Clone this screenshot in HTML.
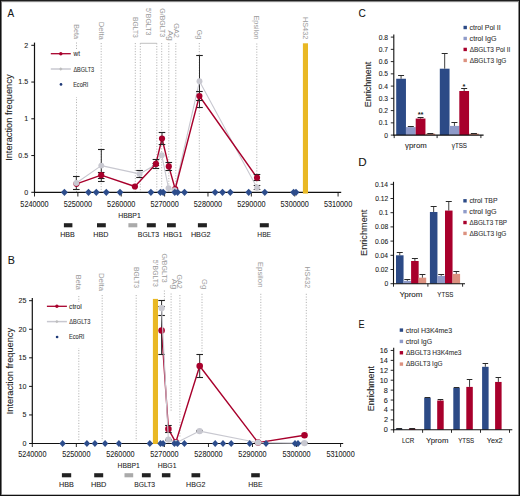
<!DOCTYPE html>
<html><head><meta charset="utf-8"><style>
html,body{margin:0;padding:0;background:#fff;}
svg{display:block;font-family:"Liberation Sans", sans-serif;}
text.d{stroke:#222;stroke-width:0.08px;}
</style></head><body>
<svg width="520" height="496" viewBox="0 0 520 496">
<rect width="520" height="496" fill="#fff"/>
<text x="7.58" y="16.8" font-size="11.6" fill="#111" textLength="6.64" lengthAdjust="spacingAndGlyphs" class="d">A</text>
<line x1="76.5" y1="42.5" x2="76.5" y2="192.3" stroke="#A0A0A0" stroke-width="0.8" stroke-dasharray="1.1 1.6"/>
<line x1="101.2" y1="43" x2="101.2" y2="192.3" stroke="#A0A0A0" stroke-width="0.8" stroke-dasharray="1.1 1.6"/>
<line x1="135.3" y1="43" x2="135.3" y2="192.3" stroke="#A0A0A0" stroke-width="0.8" stroke-dasharray="1.1 1.6"/>
<line x1="140.3" y1="43.3" x2="140.3" y2="192.3" stroke="#A0A0A0" stroke-width="0.8" stroke-dasharray="1.1 1.6"/>
<line x1="156.8" y1="43.3" x2="156.8" y2="192.3" stroke="#A0A0A0" stroke-width="0.8" stroke-dasharray="1.1 1.6"/>
<line x1="161.7" y1="43" x2="161.7" y2="192.3" stroke="#A0A0A0" stroke-width="0.8" stroke-dasharray="1.1 1.6"/>
<line x1="168.8" y1="43" x2="168.8" y2="192.3" stroke="#A0A0A0" stroke-width="0.8" stroke-dasharray="1.1 1.6"/>
<line x1="175.8" y1="43" x2="175.8" y2="192.3" stroke="#A0A0A0" stroke-width="0.8" stroke-dasharray="1.1 1.6"/>
<line x1="199.3" y1="43" x2="199.3" y2="192.3" stroke="#A0A0A0" stroke-width="0.8" stroke-dasharray="1.1 1.6"/>
<line x1="256.8" y1="43.5" x2="256.8" y2="192.3" stroke="#A0A0A0" stroke-width="0.8" stroke-dasharray="1.1 1.6"/>
<line x1="140.3" y1="43.3" x2="156.8" y2="43.3" stroke="#b0b0b0" stroke-width="0.8"/>
<text transform="translate(73.9,0) rotate(90)" x="24.21" y="0" font-size="7.9" fill="#9a9a9a" textLength="14.69" lengthAdjust="spacingAndGlyphs">Beta</text>
<text transform="translate(98.9,0) rotate(90)" x="21.76" y="0" font-size="7.9" fill="#9a9a9a" textLength="18.14" lengthAdjust="spacingAndGlyphs">Delta</text>
<text transform="translate(132.9,0) rotate(90)" x="16.96" y="0" font-size="7.9" fill="#9a9a9a" textLength="20.83" lengthAdjust="spacingAndGlyphs">BGLT3</text>
<text transform="translate(146.2,0) rotate(90)" x="7.92" y="0" font-size="7.9" fill="#9a9a9a" textLength="27.48" lengthAdjust="spacingAndGlyphs">5' BGLT3</text>
<text transform="translate(159.5,0) rotate(90)" x="8.36" y="0" font-size="7.9" fill="#9a9a9a" textLength="28.84" lengthAdjust="spacingAndGlyphs">G/BGLT3</text>
<text transform="translate(168.2,0) rotate(90)" x="30.18" y="0" font-size="7.9" fill="#9a9a9a" textLength="10.68" lengthAdjust="spacingAndGlyphs">Ag</text>
<text transform="translate(174.0,0) rotate(90)" x="23.23" y="0" font-size="7.9" fill="#9a9a9a" textLength="14.64" lengthAdjust="spacingAndGlyphs">GA2</text>
<text transform="translate(197.4,0) rotate(90)" x="29.85" y="0" font-size="7.9" fill="#9a9a9a" textLength="9.3" lengthAdjust="spacingAndGlyphs">Gg</text>
<text transform="translate(254.3,0) rotate(90)" x="15.5" y="0" font-size="7.9" fill="#9a9a9a" textLength="23.87" lengthAdjust="spacingAndGlyphs">Epsilon</text>
<text transform="translate(303.1,0) rotate(90)" x="16.9" y="0" font-size="7.9" fill="#9a9a9a" textLength="22.47" lengthAdjust="spacingAndGlyphs">HS432</text>
<rect x="48" y="50" width="50" height="47" fill="#fff"/>
<line x1="34.5" y1="42.6" x2="34.5" y2="192.8" stroke="#111" stroke-width="1.2"/>
<line x1="33.9" y1="192.3" x2="341.2" y2="192.3" stroke="#111" stroke-width="1.2"/>
<rect x="302.9" y="43.3" width="5.1" height="150.3" fill="#E9B824"/>
<line x1="31.3" y1="192.3" x2="34.5" y2="192.3" stroke="#111" stroke-width="1"/>
<text x="24.22" y="194.7" font-size="7.9" fill="#222" textLength="3.95" lengthAdjust="spacingAndGlyphs" class="d">0</text>
<line x1="31.3" y1="155.55" x2="34.5" y2="155.55" stroke="#111" stroke-width="1"/>
<text x="18.31" y="157.95" font-size="7.9" fill="#222" textLength="9.88" lengthAdjust="spacingAndGlyphs" class="d">0.5</text>
<line x1="31.3" y1="118.80000000000001" x2="34.5" y2="118.80000000000001" stroke="#111" stroke-width="1"/>
<text x="24.29" y="121.2" font-size="7.9" fill="#222" textLength="3.95" lengthAdjust="spacingAndGlyphs" class="d">1</text>
<line x1="31.3" y1="82.05000000000001" x2="34.5" y2="82.05000000000001" stroke="#111" stroke-width="1"/>
<text x="18.31" y="84.45" font-size="7.9" fill="#222" textLength="9.88" lengthAdjust="spacingAndGlyphs" class="d">1.5</text>
<line x1="31.3" y1="45.30000000000001" x2="34.5" y2="45.30000000000001" stroke="#111" stroke-width="1"/>
<text x="24.3" y="47.7" font-size="7.9" fill="#222" textLength="3.95" lengthAdjust="spacingAndGlyphs" class="d">2</text>
<line x1="34.5" y1="192.3" x2="34.5" y2="196.5" stroke="#111" stroke-width="0.9"/>
<text x="20.36" y="206.7" font-size="8.3" fill="#222" textLength="28.27" lengthAdjust="spacingAndGlyphs" class="d">5240000</text>
<line x1="77.87" y1="192.3" x2="77.87" y2="196.5" stroke="#111" stroke-width="0.9"/>
<text x="63.73" y="206.7" font-size="8.3" fill="#222" textLength="28.27" lengthAdjust="spacingAndGlyphs" class="d">5250000</text>
<line x1="121.24" y1="192.3" x2="121.24" y2="196.5" stroke="#111" stroke-width="0.9"/>
<text x="107.1" y="206.7" font-size="8.3" fill="#222" textLength="28.27" lengthAdjust="spacingAndGlyphs" class="d">5260000</text>
<line x1="164.60999999999999" y1="192.3" x2="164.60999999999999" y2="196.5" stroke="#111" stroke-width="0.9"/>
<text x="150.47" y="206.7" font-size="8.3" fill="#222" textLength="28.27" lengthAdjust="spacingAndGlyphs" class="d">5270000</text>
<line x1="207.98" y1="192.3" x2="207.98" y2="196.5" stroke="#111" stroke-width="0.9"/>
<text x="193.84" y="206.7" font-size="8.3" fill="#222" textLength="28.27" lengthAdjust="spacingAndGlyphs" class="d">5280000</text>
<line x1="251.35" y1="192.3" x2="251.35" y2="196.5" stroke="#111" stroke-width="0.9"/>
<text x="237.21" y="206.7" font-size="8.3" fill="#222" textLength="28.27" lengthAdjust="spacingAndGlyphs" class="d">5290000</text>
<line x1="294.71999999999997" y1="192.3" x2="294.71999999999997" y2="196.5" stroke="#111" stroke-width="0.9"/>
<text x="280.58" y="206.7" font-size="8.3" fill="#222" textLength="28.27" lengthAdjust="spacingAndGlyphs" class="d">5300000</text>
<line x1="338.09" y1="192.3" x2="338.09" y2="196.5" stroke="#111" stroke-width="0.9"/>
<text x="323.95" y="206.7" font-size="8.3" fill="#222" textLength="28.27" lengthAdjust="spacingAndGlyphs" class="d">5310000</text>
<text transform="translate(12.1,0) rotate(-90)" x="-160.85" y="0" font-size="9.6" fill="#222" textLength="86.37" lengthAdjust="spacingAndGlyphs" class="d">Interaction frequency</text>
<line x1="76.3" y1="176.5" x2="76.3" y2="189.5" stroke="#222" stroke-width="0.95"/>
<line x1="73.0" y1="176.5" x2="79.6" y2="176.5" stroke="#222" stroke-width="1.1"/>
<line x1="73.0" y1="189.5" x2="79.6" y2="189.5" stroke="#222" stroke-width="1.1"/>
<line x1="101.3" y1="149.5" x2="101.3" y2="181.5" stroke="#222" stroke-width="0.95"/>
<line x1="98.0" y1="149.5" x2="104.6" y2="149.5" stroke="#222" stroke-width="1.1"/>
<line x1="98.0" y1="181.5" x2="104.6" y2="181.5" stroke="#222" stroke-width="1.1"/>
<line x1="139.6" y1="170.5" x2="139.6" y2="177.5" stroke="#222" stroke-width="0.95"/>
<line x1="136.3" y1="170.5" x2="142.9" y2="170.5" stroke="#222" stroke-width="1.1"/>
<line x1="136.3" y1="177.5" x2="142.9" y2="177.5" stroke="#222" stroke-width="1.1"/>
<line x1="155.8" y1="165.5" x2="155.8" y2="163.5" stroke="#222" stroke-width="0.95"/>
<line x1="152.5" y1="165.5" x2="159.1" y2="165.5" stroke="#222" stroke-width="1.1"/>
<line x1="152.5" y1="163.5" x2="159.1" y2="163.5" stroke="#222" stroke-width="1.1"/>
<line x1="199.5" y1="55.5" x2="199.5" y2="107.5" stroke="#222" stroke-width="0.95"/>
<line x1="196.2" y1="55.5" x2="202.8" y2="55.5" stroke="#222" stroke-width="1.1"/>
<line x1="196.2" y1="107.5" x2="202.8" y2="107.5" stroke="#222" stroke-width="1.1"/>
<line x1="257" y1="185.5" x2="257" y2="189.5" stroke="#222" stroke-width="0.95"/>
<line x1="253.7" y1="185.5" x2="260.3" y2="185.5" stroke="#222" stroke-width="1.1"/>
<line x1="253.7" y1="189.5" x2="260.3" y2="189.5" stroke="#222" stroke-width="1.1"/>
<polyline points="76.3,183 101.3,165.6 139.6,173.9 155.8,164.5 161.8,155.3 168.5,188.1 174.6,190.2 199.5,81.3 257,187.8" fill="none" stroke="#C8C8D0" stroke-width="1.1" stroke-linejoin="round"/>
<polyline points="76.5,183.8 101.2,175.2 134.9,186.5 155.9,163.9 162,138.5 168.8,166.4 175.2,189 199.4,96 257,177.7" fill="none" stroke="#A8002C" stroke-width="1.4" stroke-linejoin="round"/>
<line x1="101.2" y1="172.5" x2="101.2" y2="178.5" stroke="#222" stroke-width="0.95"/>
<line x1="97.9" y1="172.5" x2="104.5" y2="172.5" stroke="#222" stroke-width="1.1"/>
<line x1="97.9" y1="178.5" x2="104.5" y2="178.5" stroke="#222" stroke-width="1.1"/>
<line x1="155.9" y1="159.5" x2="155.9" y2="168.5" stroke="#222" stroke-width="0.95"/>
<line x1="152.6" y1="159.5" x2="159.2" y2="159.5" stroke="#222" stroke-width="1.1"/>
<line x1="152.6" y1="168.5" x2="159.2" y2="168.5" stroke="#222" stroke-width="1.1"/>
<line x1="162" y1="132.5" x2="162" y2="144.5" stroke="#222" stroke-width="0.95"/>
<line x1="158.7" y1="132.5" x2="165.3" y2="132.5" stroke="#222" stroke-width="1.1"/>
<line x1="158.7" y1="144.5" x2="165.3" y2="144.5" stroke="#222" stroke-width="1.1"/>
<line x1="168.8" y1="162.5" x2="168.8" y2="170.5" stroke="#222" stroke-width="0.95"/>
<line x1="165.5" y1="162.5" x2="172.1" y2="162.5" stroke="#222" stroke-width="1.1"/>
<line x1="165.5" y1="170.5" x2="172.1" y2="170.5" stroke="#222" stroke-width="1.1"/>
<line x1="199.4" y1="91.5" x2="199.4" y2="100.5" stroke="#222" stroke-width="0.95"/>
<line x1="196.1" y1="91.5" x2="202.7" y2="91.5" stroke="#222" stroke-width="1.1"/>
<line x1="196.1" y1="100.5" x2="202.7" y2="100.5" stroke="#222" stroke-width="1.1"/>
<line x1="257" y1="174.5" x2="257" y2="180.5" stroke="#222" stroke-width="0.95"/>
<line x1="253.7" y1="174.5" x2="260.3" y2="174.5" stroke="#222" stroke-width="1.1"/>
<line x1="253.7" y1="180.5" x2="260.3" y2="180.5" stroke="#222" stroke-width="1.1"/>
<circle cx="76.5" cy="183.8" r="3.1" fill="#A8002C"/>
<circle cx="101.2" cy="175.2" r="3.1" fill="#A8002C"/>
<circle cx="134.9" cy="186.5" r="3.1" fill="#A8002C"/>
<circle cx="155.9" cy="163.9" r="3.1" fill="#A8002C"/>
<circle cx="162" cy="138.5" r="3.1" fill="#A8002C"/>
<circle cx="168.8" cy="166.4" r="3.1" fill="#A8002C"/>
<circle cx="175.2" cy="189" r="3.1" fill="#A8002C"/>
<circle cx="199.4" cy="96" r="3.1" fill="#A8002C"/>
<circle cx="257" cy="177.7" r="3.1" fill="#A8002C"/>
<circle cx="76.3" cy="183" r="2.95" fill="#C8C8D0"/>
<circle cx="101.3" cy="165.6" r="2.95" fill="#C8C8D0"/>
<circle cx="139.6" cy="173.9" r="2.95" fill="#C8C8D0"/>
<circle cx="161.8" cy="155.3" r="2.95" fill="#C8C8D0"/>
<circle cx="168.5" cy="188.1" r="2.95" fill="#C8C8D0"/>
<circle cx="174.6" cy="190.2" r="2.95" fill="#C8C8D0"/>
<circle cx="199.5" cy="81.3" r="2.95" fill="#C8C8D0"/>
<circle cx="257" cy="187.8" r="2.95" fill="#C8C8D0"/>
<path d="M60.95 192.3L64.4 188.65L67.85 192.3L64.4 195.95Z" fill="#2D4D8C"/>
<path d="M85.05 192.3L88.5 188.65L91.95 192.3L88.5 195.95Z" fill="#2D4D8C"/>
<path d="M92.85 192.3L96.3 188.65L99.75 192.3L96.3 195.95Z" fill="#2D4D8C"/>
<path d="M102.85 192.3L106.3 188.65L109.75 192.3L106.3 195.95Z" fill="#2D4D8C"/>
<path d="M116.55 192.3L120 188.65L123.45 192.3L120 195.95Z" fill="#2D4D8C"/>
<path d="M147.45 192.3L150.9 188.65L154.35 192.3L150.9 195.95Z" fill="#2D4D8C"/>
<path d="M156.95 192.3L160.4 188.65L163.85 192.3L160.4 195.95Z" fill="#2D4D8C"/>
<path d="M159.75 192.3L163.2 188.65L166.65 192.3L163.2 195.95Z" fill="#2D4D8C"/>
<path d="M171.35 192.3L174.8 188.65L178.25 192.3L174.8 195.95Z" fill="#2D4D8C"/>
<path d="M174.15 192.3L177.6 188.65L181.05 192.3L177.6 195.95Z" fill="#2D4D8C"/>
<path d="M181.05 192.3L184.5 188.65L187.95 192.3L184.5 195.95Z" fill="#2D4D8C"/>
<path d="M211.65 192.3L215.1 188.65L218.55 192.3L215.1 195.95Z" fill="#2D4D8C"/>
<path d="M219.05 192.3L222.5 188.65L225.95 192.3L222.5 195.95Z" fill="#2D4D8C"/>
<path d="M226.85 192.3L230.3 188.65L233.75 192.3L230.3 195.95Z" fill="#2D4D8C"/>
<path d="M245.25 192.3L248.7 188.65L252.15 192.3L248.7 195.95Z" fill="#2D4D8C"/>
<path d="M261.35 192.3L264.8 188.65L268.25 192.3L264.8 195.95Z" fill="#2D4D8C"/>
<path d="M290.15 192.3L293.6 188.65L297.05 192.3L293.6 195.95Z" fill="#2D4D8C"/>
<path d="M292.55 192.3L296 188.65L299.45 192.3L296 195.95Z" fill="#2D4D8C"/>
<line x1="50.8" y1="53.7" x2="70.8" y2="53.7" stroke="#A8002C" stroke-width="1.3"/>
<circle cx="60.8" cy="53.7" r="1.7" fill="#A8002C"/>
<line x1="50.8" y1="69.0" x2="70.8" y2="69.0" stroke="#C8C8D0" stroke-width="1.5"/>
<path d="M59.1 69.0L60.8 67.3L62.5 69.0L60.8 70.7Z" fill="#bdbdbd"/>
<circle cx="61.0" cy="84.4" r="1.35" fill="#1f3a78"/>
<text x="73.61" y="55.9" font-size="6.5" fill="#333" textLength="6.34" lengthAdjust="spacingAndGlyphs" class="d">wt</text>
<text x="73.44" y="71.5" font-size="6.5" fill="#333" textLength="20.7" lengthAdjust="spacingAndGlyphs" class="d">ΔBGLT3</text>
<text x="73.14" y="86.5" font-size="6.5" fill="#333" textLength="15.28" lengthAdjust="spacingAndGlyphs" class="d">EcoRI</text>
<rect x="63.9" y="223.2" width="8.5" height="4.1" fill="#222"/>
<text x="60.22" y="237.3" font-size="7.8" fill="#222" textLength="14.66" lengthAdjust="spacingAndGlyphs" class="d">HBB</text>
<rect x="97" y="223.2" width="8.8" height="4.1" fill="#222"/>
<text x="93.21" y="237.3" font-size="7.8" fill="#222" textLength="15.13" lengthAdjust="spacingAndGlyphs" class="d">HBD</text>
<rect x="128.4" y="223.2" width="8.9" height="4.1" fill="#aaa"/>
<text x="118.24" y="218.1" font-size="7.8" fill="#222" textLength="22.5" lengthAdjust="spacingAndGlyphs" class="d">HBBP1</text>
<rect x="146.8" y="223.2" width="9.0" height="4.1" fill="#222"/>
<text x="137.85" y="237.3" font-size="7.8" fill="#222" textLength="21.24" lengthAdjust="spacingAndGlyphs" class="d">BGLT3</text>
<rect x="167" y="223.2" width="8.8" height="4.1" fill="#222"/>
<text x="163.32" y="237.3" font-size="7.8" fill="#222" textLength="19.22" lengthAdjust="spacingAndGlyphs" class="d">HBG1</text>
<rect x="197.9" y="223.2" width="9.0" height="4.1" fill="#222"/>
<text x="190.91" y="237.3" font-size="7.8" fill="#222" textLength="19.66" lengthAdjust="spacingAndGlyphs" class="d">HBG2</text>
<rect x="259.8" y="223.2" width="9.0" height="4.1" fill="#222"/>
<text x="257.35" y="237.3" font-size="7.8" fill="#222" textLength="13.73" lengthAdjust="spacingAndGlyphs" class="d">HBE</text>
<text x="7.82" y="263.9" font-size="11.6" fill="#111" textLength="7.14" lengthAdjust="spacingAndGlyphs" class="d">B</text>
<line x1="78.8" y1="296" x2="78.8" y2="441" stroke="#A0A0A0" stroke-width="0.8" stroke-dasharray="1.1 1.6"/>
<line x1="102.2" y1="295" x2="102.2" y2="441" stroke="#A0A0A0" stroke-width="0.8" stroke-dasharray="1.1 1.6"/>
<line x1="136.2" y1="295" x2="136.2" y2="441" stroke="#A0A0A0" stroke-width="0.8" stroke-dasharray="1.1 1.6"/>
<line x1="164.4" y1="290.5" x2="164.4" y2="301" stroke="#A0A0A0" stroke-width="0.8" stroke-dasharray="1.1 1.6"/>
<line x1="171.1" y1="293.5" x2="171.1" y2="412" stroke="#A0A0A0" stroke-width="0.8" stroke-dasharray="1.1 1.6"/>
<line x1="179.9" y1="295" x2="179.9" y2="438" stroke="#A0A0A0" stroke-width="0.8" stroke-dasharray="1.1 1.6"/>
<line x1="202" y1="293.8" x2="202" y2="352" stroke="#A0A0A0" stroke-width="0.8" stroke-dasharray="1.1 1.6"/>
<line x1="260.8" y1="293.8" x2="260.8" y2="438" stroke="#A0A0A0" stroke-width="0.8" stroke-dasharray="1.1 1.6"/>
<line x1="306.3" y1="293.8" x2="306.3" y2="432" stroke="#A0A0A0" stroke-width="0.8" stroke-dasharray="1.1 1.6"/>
<text transform="translate(76.3,0) rotate(90)" x="274.8" y="0" font-size="7.9" fill="#9a9a9a" textLength="15.1" lengthAdjust="spacingAndGlyphs">Beta</text>
<text transform="translate(98.9,0) rotate(90)" x="272.96" y="0" font-size="7.9" fill="#9a9a9a" textLength="18.14" lengthAdjust="spacingAndGlyphs">Delta</text>
<text transform="translate(133.5,0) rotate(90)" x="266.96" y="0" font-size="7.9" fill="#9a9a9a" textLength="21.04" lengthAdjust="spacingAndGlyphs">BGLT3</text>
<text transform="translate(153.0,0) rotate(90)" x="259.83" y="0" font-size="7.9" fill="#9a9a9a" textLength="27.07" lengthAdjust="spacingAndGlyphs">5' BGLT3</text>
<text transform="translate(162.4,0) rotate(90)" x="253.45" y="0" font-size="7.9" fill="#9a9a9a" textLength="29.15" lengthAdjust="spacingAndGlyphs">G/BGLT3</text>
<text transform="translate(171.5,0) rotate(90)" x="278.88" y="0" font-size="7.9" fill="#9a9a9a" textLength="10.47" lengthAdjust="spacingAndGlyphs">Ag</text>
<text transform="translate(177.2,0) rotate(90)" x="274.54" y="0" font-size="7.9" fill="#9a9a9a" textLength="14.21" lengthAdjust="spacingAndGlyphs">GA2</text>
<text transform="translate(201.6,0) rotate(90)" x="279.12" y="0" font-size="7.9" fill="#9a9a9a" textLength="10.18" lengthAdjust="spacingAndGlyphs">Gg</text>
<text transform="translate(258.0,0) rotate(90)" x="261.86" y="0" font-size="7.9" fill="#9a9a9a" textLength="25.65" lengthAdjust="spacingAndGlyphs">Epsilon</text>
<text transform="translate(304.5,0) rotate(90)" x="266.41" y="0" font-size="7.9" fill="#9a9a9a" textLength="21.95" lengthAdjust="spacingAndGlyphs">HS432</text>
<rect x="45" y="302" width="50" height="46" fill="#fff"/>
<line x1="32.3" y1="298.1" x2="32.3" y2="444.0" stroke="#111" stroke-width="1.2"/>
<line x1="31.699999999999996" y1="443.5" x2="343.2" y2="443.5" stroke="#111" stroke-width="1.2"/>
<rect x="152.9" y="298.9" width="5.1" height="145.1" fill="#E9B824"/>
<line x1="29.099999999999998" y1="443.5" x2="32.3" y2="443.5" stroke="#111" stroke-width="1"/>
<text x="22.52" y="445.9" font-size="7.9" fill="#222" textLength="3.95" lengthAdjust="spacingAndGlyphs" class="d">0</text>
<line x1="29.099999999999998" y1="414.94" x2="32.3" y2="414.94" stroke="#111" stroke-width="1"/>
<text x="22.54" y="417.34" font-size="7.9" fill="#222" textLength="3.95" lengthAdjust="spacingAndGlyphs" class="d">5</text>
<line x1="29.099999999999998" y1="386.38" x2="32.3" y2="386.38" stroke="#111" stroke-width="1"/>
<text x="18.57" y="388.78" font-size="7.9" fill="#222" textLength="7.91" lengthAdjust="spacingAndGlyphs" class="d">10</text>
<line x1="29.099999999999998" y1="357.82" x2="32.3" y2="357.82" stroke="#111" stroke-width="1"/>
<text x="18.59" y="360.22" font-size="7.9" fill="#222" textLength="7.91" lengthAdjust="spacingAndGlyphs" class="d">15</text>
<line x1="29.099999999999998" y1="329.26" x2="32.3" y2="329.26" stroke="#111" stroke-width="1"/>
<text x="18.57" y="331.66" font-size="7.9" fill="#222" textLength="7.91" lengthAdjust="spacingAndGlyphs" class="d">20</text>
<line x1="29.099999999999998" y1="300.70000000000005" x2="32.3" y2="300.70000000000005" stroke="#111" stroke-width="1"/>
<text x="18.59" y="303.1" font-size="7.9" fill="#222" textLength="7.91" lengthAdjust="spacingAndGlyphs" class="d">25</text>
<line x1="32.3" y1="443.5" x2="32.3" y2="447.0" stroke="#111" stroke-width="0.9"/>
<text x="18.16" y="456.5" font-size="8.3" fill="#222" textLength="28.27" lengthAdjust="spacingAndGlyphs" class="d">5240000</text>
<line x1="76.34" y1="443.5" x2="76.34" y2="447.0" stroke="#111" stroke-width="0.9"/>
<text x="62.2" y="456.5" font-size="8.3" fill="#222" textLength="28.27" lengthAdjust="spacingAndGlyphs" class="d">5250000</text>
<line x1="120.38" y1="443.5" x2="120.38" y2="447.0" stroke="#111" stroke-width="0.9"/>
<text x="106.24" y="456.5" font-size="8.3" fill="#222" textLength="28.27" lengthAdjust="spacingAndGlyphs" class="d">5260000</text>
<line x1="164.42000000000002" y1="443.5" x2="164.42000000000002" y2="447.0" stroke="#111" stroke-width="0.9"/>
<text x="150.28" y="456.5" font-size="8.3" fill="#222" textLength="28.27" lengthAdjust="spacingAndGlyphs" class="d">5270000</text>
<line x1="208.45999999999998" y1="443.5" x2="208.45999999999998" y2="447.0" stroke="#111" stroke-width="0.9"/>
<text x="194.32" y="456.5" font-size="8.3" fill="#222" textLength="28.27" lengthAdjust="spacingAndGlyphs" class="d">5280000</text>
<line x1="252.5" y1="443.5" x2="252.5" y2="447.0" stroke="#111" stroke-width="0.9"/>
<text x="238.36" y="456.5" font-size="8.3" fill="#222" textLength="28.27" lengthAdjust="spacingAndGlyphs" class="d">5290000</text>
<line x1="296.54" y1="443.5" x2="296.54" y2="447.0" stroke="#111" stroke-width="0.9"/>
<text x="282.4" y="456.5" font-size="8.3" fill="#222" textLength="28.27" lengthAdjust="spacingAndGlyphs" class="d">5300000</text>
<line x1="340.58" y1="443.5" x2="340.58" y2="447.0" stroke="#111" stroke-width="0.9"/>
<text x="326.44" y="456.5" font-size="8.3" fill="#222" textLength="28.27" lengthAdjust="spacingAndGlyphs" class="d">5310000</text>
<text transform="translate(12.6,0) rotate(-90)" x="-414.25" y="0" font-size="9.6" fill="#222" textLength="86.37" lengthAdjust="spacingAndGlyphs" class="d">Interaction frequency</text>
<line x1="161.6" y1="300.5" x2="161.6" y2="315.5" stroke="#222" stroke-width="0.95"/>
<line x1="158.3" y1="300.5" x2="164.9" y2="300.5" stroke="#222" stroke-width="1.1"/>
<line x1="158.3" y1="315.5" x2="164.9" y2="315.5" stroke="#222" stroke-width="1.1"/>
<line x1="168.4" y1="439.5" x2="168.4" y2="440.5" stroke="#222" stroke-width="0.95"/>
<line x1="165.1" y1="439.5" x2="171.7" y2="439.5" stroke="#222" stroke-width="1.1"/>
<line x1="165.1" y1="440.5" x2="171.7" y2="440.5" stroke="#222" stroke-width="1.1"/>
<line x1="199.6" y1="430.5" x2="199.6" y2="431.5" stroke="#222" stroke-width="0.95"/>
<line x1="196.3" y1="430.5" x2="202.9" y2="430.5" stroke="#222" stroke-width="1.1"/>
<line x1="196.3" y1="431.5" x2="202.9" y2="431.5" stroke="#222" stroke-width="1.1"/>
<line x1="258.1" y1="442.5" x2="258.1" y2="442.5" stroke="#222" stroke-width="0.95"/>
<line x1="254.8" y1="442.5" x2="261.4" y2="442.5" stroke="#222" stroke-width="1.1"/>
<line x1="254.8" y1="442.5" x2="261.4" y2="442.5" stroke="#222" stroke-width="1.1"/>
<line x1="304.5" y1="442.5" x2="304.5" y2="443.5" stroke="#222" stroke-width="0.95"/>
<line x1="301.2" y1="442.5" x2="307.8" y2="442.5" stroke="#222" stroke-width="1.1"/>
<line x1="301.2" y1="443.5" x2="307.8" y2="443.5" stroke="#222" stroke-width="1.1"/>
<polyline points="161.6,330.5 168.4,429.1 175.8,442.3 199.7,366 258.1,442.6 304.5,435.3" fill="none" stroke="#A8002C" stroke-width="1.4" stroke-linejoin="round"/>
<line x1="161.6" y1="306.5" x2="161.6" y2="354.5" stroke="#222" stroke-width="0.95"/>
<line x1="158.3" y1="306.5" x2="164.9" y2="306.5" stroke="#222" stroke-width="1.1"/>
<line x1="158.3" y1="354.5" x2="164.9" y2="354.5" stroke="#222" stroke-width="1.1"/>
<line x1="168.4" y1="425.5" x2="168.4" y2="432.5" stroke="#222" stroke-width="0.95"/>
<line x1="165.1" y1="425.5" x2="171.7" y2="425.5" stroke="#222" stroke-width="1.1"/>
<line x1="165.1" y1="432.5" x2="171.7" y2="432.5" stroke="#222" stroke-width="1.1"/>
<line x1="199.7" y1="354.5" x2="199.7" y2="377.5" stroke="#222" stroke-width="0.95"/>
<line x1="196.4" y1="354.5" x2="203.0" y2="354.5" stroke="#222" stroke-width="1.1"/>
<line x1="196.4" y1="377.5" x2="203.0" y2="377.5" stroke="#222" stroke-width="1.1"/>
<circle cx="161.6" cy="330.5" r="3.3" fill="#A8002C"/>
<circle cx="168.4" cy="429.1" r="3.3" fill="#A8002C"/>
<circle cx="175.8" cy="442.3" r="3.3" fill="#A8002C"/>
<circle cx="199.7" cy="366" r="3.3" fill="#A8002C"/>
<circle cx="258.1" cy="442.6" r="3.3" fill="#A8002C"/>
<circle cx="304.5" cy="435.3" r="3.3" fill="#A8002C"/>
<polyline points="161.6,308.1 168.4,439.6 175.8,443 199.6,431.1 258.1,442.6 304.5,443.1" fill="none" stroke="#C8C8D0" stroke-width="1.1" stroke-linejoin="round"/>
<circle cx="161.6" cy="308.1" r="3.2" fill="#C8C8D0"/>
<circle cx="168.4" cy="439.6" r="3.2" fill="#C8C8D0"/>
<circle cx="175.8" cy="443" r="3.2" fill="#C8C8D0"/>
<circle cx="199.6" cy="431.1" r="3.2" fill="#C8C8D0"/>
<circle cx="258.1" cy="442.6" r="3.2" fill="#C8C8D0"/>
<circle cx="304.5" cy="443.1" r="3.2" fill="#C8C8D0"/>
<path d="M59.4 443.5L62.6 440.05L65.8 443.5L62.6 446.95Z" fill="#2D4D8C"/>
<path d="M83.7 443.5L86.9 440.05L90.1 443.5L86.9 446.95Z" fill="#2D4D8C"/>
<path d="M91.7 443.5L94.9 440.05L98.1 443.5L94.9 446.95Z" fill="#2D4D8C"/>
<path d="M101.9 443.5L105.1 440.05L108.3 443.5L105.1 446.95Z" fill="#2D4D8C"/>
<path d="M115.7 443.5L118.9 440.05L122.1 443.5L118.9 446.95Z" fill="#2D4D8C"/>
<path d="M146.6 443.5L149.8 440.05L153.0 443.5L149.8 446.95Z" fill="#2D4D8C"/>
<path d="M157.3 443.5L160.5 440.05L163.7 443.5L160.5 446.95Z" fill="#2D4D8C"/>
<path d="M159.9 443.5L163.1 440.05L166.3 443.5L163.1 446.95Z" fill="#2D4D8C"/>
<path d="M171.2 443.5L174.4 440.05L177.6 443.5L174.4 446.95Z" fill="#2D4D8C"/>
<path d="M174.3 443.5L177.5 440.05L180.7 443.5L177.5 446.95Z" fill="#2D4D8C"/>
<path d="M181.2 443.5L184.4 440.05L187.6 443.5L184.4 446.95Z" fill="#2D4D8C"/>
<path d="M212.0 443.5L215.2 440.05L218.4 443.5L215.2 446.95Z" fill="#2D4D8C"/>
<path d="M219.8 443.5L223 440.05L226.2 443.5L223 446.95Z" fill="#2D4D8C"/>
<path d="M228.0 443.5L231.2 440.05L234.4 443.5L231.2 446.95Z" fill="#2D4D8C"/>
<path d="M246.5 443.5L249.7 440.05L252.9 443.5L249.7 446.95Z" fill="#2D4D8C"/>
<path d="M262.8 443.5L266 440.05L269.2 443.5L266 446.95Z" fill="#2D4D8C"/>
<path d="M291.8 443.5L295 440.05L298.2 443.5L295 446.95Z" fill="#2D4D8C"/>
<path d="M294.8 443.5L298 440.05L301.2 443.5L298 446.95Z" fill="#2D4D8C"/>
<line x1="46.9" y1="306.3" x2="66.9" y2="306.3" stroke="#A8002C" stroke-width="1.3"/>
<circle cx="56.9" cy="306.3" r="1.7" fill="#A8002C"/>
<line x1="46.9" y1="321.6" x2="66.9" y2="321.6" stroke="#C8C8D0" stroke-width="1.5"/>
<path d="M55.2 321.6L56.9 319.9L58.6 321.6L56.9 323.3Z" fill="#bdbdbd"/>
<circle cx="57.099999999999994" cy="337.0" r="1.35" fill="#1f3a78"/>
<text x="69.12" y="308.6" font-size="6.5" fill="#333" textLength="12.63" lengthAdjust="spacingAndGlyphs" class="d">ctrol</text>
<text x="69.24" y="323.6" font-size="6.5" fill="#333" textLength="21.21" lengthAdjust="spacingAndGlyphs" class="d">ΔBGLT3</text>
<text x="68.94" y="339.1" font-size="6.5" fill="#333" textLength="15.38" lengthAdjust="spacingAndGlyphs" class="d">EcoRI</text>
<rect x="61.9" y="473.2" width="9.3" height="4.1" fill="#222"/>
<text x="59.01" y="487.3" font-size="7.8" fill="#222" textLength="14.87" lengthAdjust="spacingAndGlyphs" class="d">HBB</text>
<rect x="94.2" y="473.2" width="9.0" height="4.1" fill="#222"/>
<text x="90.9" y="487.3" font-size="7.8" fill="#222" textLength="15.56" lengthAdjust="spacingAndGlyphs" class="d">HBD</text>
<rect x="124.5" y="473.2" width="8.7" height="4.1" fill="#aaa"/>
<text x="117.55" y="468.1" font-size="7.8" fill="#222" textLength="22.08" lengthAdjust="spacingAndGlyphs" class="d">HBBP1</text>
<rect x="141.9" y="473.2" width="8.8" height="4.1" fill="#222"/>
<text x="134.16" y="487.3" font-size="7.8" fill="#222" textLength="20.83" lengthAdjust="spacingAndGlyphs" class="d">BGLT3</text>
<rect x="161.9" y="473.2" width="8.5" height="4.1" fill="#222"/>
<text x="157.84" y="468.1" font-size="7.8" fill="#222" textLength="18.7" lengthAdjust="spacingAndGlyphs" class="d">HBG1</text>
<rect x="191.5" y="473.2" width="8.7" height="4.1" fill="#222"/>
<text x="186.12" y="487.3" font-size="7.8" fill="#222" textLength="19.23" lengthAdjust="spacingAndGlyphs" class="d">HBG2</text>
<rect x="251.2" y="473.2" width="8.6" height="4.1" fill="#222"/>
<text x="248.23" y="487.3" font-size="7.8" fill="#222" textLength="14.37" lengthAdjust="spacingAndGlyphs" class="d">HBE</text>
<text x="358.39" y="16.9" font-size="11.6" fill="#111" textLength="7.3" lengthAdjust="spacingAndGlyphs" class="d">C</text>
<rect x="396.2" y="78.75" width="9.75" height="56.35" fill="#2C4A86"/>
<line x1="401.07" y1="75.5" x2="401.07" y2="78.75" stroke="#2a2a2a" stroke-width="0.9"/>
<line x1="398.07" y1="75.5" x2="404.07" y2="75.5" stroke="#2a2a2a" stroke-width="1.0"/>
<rect x="405.95" y="127.14" width="9.75" height="7.96" fill="#8F9BC9"/>
<line x1="410.82" y1="126.5" x2="410.82" y2="127.14" stroke="#2a2a2a" stroke-width="0.9"/>
<line x1="407.82" y1="126.5" x2="413.82" y2="126.5" stroke="#2a2a2a" stroke-width="1.0"/>
<rect x="415.7" y="118.56" width="9.75" height="16.54" fill="#A8002C"/>
<line x1="420.57" y1="117.5" x2="420.57" y2="118.56" stroke="#2a2a2a" stroke-width="0.9"/>
<line x1="417.57" y1="117.5" x2="423.57" y2="117.5" stroke="#2a2a2a" stroke-width="1.0"/>
<rect x="425.45" y="133.63" width="9.75" height="1.47" fill="#DC917F"/>
<line x1="430.32" y1="133.5" x2="430.32" y2="133.63" stroke="#2a2a2a" stroke-width="0.9"/>
<line x1="427.32" y1="133.5" x2="433.32" y2="133.5" stroke="#2a2a2a" stroke-width="1.0"/>
<rect x="439.8" y="68.7" width="9.75" height="66.4" fill="#2C4A86"/>
<line x1="444.68" y1="53.5" x2="444.68" y2="68.7" stroke="#2a2a2a" stroke-width="0.9"/>
<line x1="441.68" y1="53.5" x2="447.68" y2="53.5" stroke="#2a2a2a" stroke-width="1.0"/>
<rect x="449.55" y="125.91" width="9.75" height="9.19" fill="#8F9BC9"/>
<line x1="454.43" y1="122.5" x2="454.43" y2="125.91" stroke="#2a2a2a" stroke-width="0.9"/>
<line x1="451.43" y1="122.5" x2="457.43" y2="122.5" stroke="#2a2a2a" stroke-width="1.0"/>
<rect x="459.3" y="91.0" width="9.75" height="44.1" fill="#A8002C"/>
<line x1="464.18" y1="88.5" x2="464.18" y2="91.0" stroke="#2a2a2a" stroke-width="0.9"/>
<line x1="461.18" y1="88.5" x2="467.18" y2="88.5" stroke="#2a2a2a" stroke-width="1.0"/>
<rect x="469.05" y="133.63" width="9.75" height="1.47" fill="#DC917F"/>
<line x1="473.93" y1="133.5" x2="473.93" y2="133.63" stroke="#2a2a2a" stroke-width="0.9"/>
<line x1="470.93" y1="133.5" x2="476.93" y2="133.5" stroke="#2a2a2a" stroke-width="1.0"/>
<line x1="393.8" y1="34.5" x2="393.8" y2="135.6" stroke="#111" stroke-width="1.1"/>
<line x1="393.3" y1="135.1" x2="483.6" y2="135.1" stroke="#111" stroke-width="1.1"/>
<line x1="390.8" y1="135.1" x2="393.8" y2="135.1" stroke="#111" stroke-width="0.9"/>
<text x="384.23" y="137.6" font-size="7.3" fill="#222" textLength="3.74" lengthAdjust="spacingAndGlyphs" class="d">0</text>
<line x1="390.8" y1="122.85" x2="393.8" y2="122.85" stroke="#111" stroke-width="0.9"/>
<text x="378.69" y="125.35" font-size="7.3" fill="#222" textLength="9.34" lengthAdjust="spacingAndGlyphs" class="d">0.1</text>
<line x1="390.8" y1="110.6" x2="393.8" y2="110.6" stroke="#111" stroke-width="0.9"/>
<text x="378.7" y="113.1" font-size="7.3" fill="#222" textLength="9.34" lengthAdjust="spacingAndGlyphs" class="d">0.2</text>
<line x1="390.8" y1="98.35" x2="393.8" y2="98.35" stroke="#111" stroke-width="0.9"/>
<text x="378.66" y="100.85" font-size="7.3" fill="#222" textLength="9.34" lengthAdjust="spacingAndGlyphs" class="d">0.3</text>
<line x1="390.8" y1="86.1" x2="393.8" y2="86.1" stroke="#111" stroke-width="0.9"/>
<text x="378.56" y="88.6" font-size="7.3" fill="#222" textLength="9.34" lengthAdjust="spacingAndGlyphs" class="d">0.4</text>
<line x1="390.8" y1="73.85" x2="393.8" y2="73.85" stroke="#111" stroke-width="0.9"/>
<text x="378.65" y="76.35" font-size="7.3" fill="#222" textLength="9.34" lengthAdjust="spacingAndGlyphs" class="d">0.5</text>
<line x1="390.8" y1="61.6" x2="393.8" y2="61.6" stroke="#111" stroke-width="0.9"/>
<text x="378.66" y="64.1" font-size="7.3" fill="#222" textLength="9.34" lengthAdjust="spacingAndGlyphs" class="d">0.6</text>
<line x1="390.8" y1="49.35" x2="393.8" y2="49.35" stroke="#111" stroke-width="0.9"/>
<text x="378.7" y="51.85" font-size="7.3" fill="#222" textLength="9.34" lengthAdjust="spacingAndGlyphs" class="d">0.7</text>
<line x1="390.8" y1="37.1" x2="393.8" y2="37.1" stroke="#111" stroke-width="0.9"/>
<text x="378.66" y="39.6" font-size="7.3" fill="#222" textLength="9.34" lengthAdjust="spacingAndGlyphs" class="d">0.8</text>
<line x1="394.2" y1="135.1" x2="394.2" y2="138.1" stroke="#111" stroke-width="0.9"/>
<line x1="437.1" y1="135.1" x2="437.1" y2="138.1" stroke="#111" stroke-width="0.9"/>
<line x1="480.9" y1="135.1" x2="480.9" y2="138.1" stroke="#111" stroke-width="0.9"/>
<text x="405.07" y="148.4" font-size="7.4" fill="#222" textLength="21.64" lengthAdjust="spacingAndGlyphs" class="d">γprom</text>
<text x="451.78" y="148.3" font-size="7.4" fill="#222" textLength="15.21" lengthAdjust="spacingAndGlyphs" class="d">γTSS</text>
<text transform="translate(371.4,0) rotate(-90)" x="-107.14" y="0" font-size="9.9" fill="#222" textLength="45.4" lengthAdjust="spacingAndGlyphs" class="d">Enrichment</text>
<rect x="463.5" y="25.8" width="3.4" height="3.4" fill="#2C4A86"/>
<text x="469.6" y="29.9" font-size="6.6" fill="#333" textLength="31.14" lengthAdjust="spacingAndGlyphs" class="d">ctrol Pol II</text>
<rect x="463.5" y="36.77" width="3.4" height="3.4" fill="#8F9BC9"/>
<text x="469.6" y="40.87" font-size="6.6" fill="#333" textLength="26.94" lengthAdjust="spacingAndGlyphs" class="d">ctrol IgG</text>
<rect x="463.5" y="47.74" width="3.4" height="3.4" fill="#A8002C"/>
<text x="469.71" y="51.84" font-size="6.6" fill="#333" textLength="40.68" lengthAdjust="spacingAndGlyphs" class="d">ΔBGLT3 Pol II</text>
<rect x="463.5" y="58.71" width="3.4" height="3.4" fill="#DC917F"/>
<text x="469.71" y="62.81" font-size="6.6" fill="#333" textLength="36.67" lengthAdjust="spacingAndGlyphs" class="d">ΔBGLT3 IgG</text>
<text x="420.6" y="117.0" font-size="7.5" font-weight="bold" fill="#222" text-anchor="middle">**</text>
<text x="463.9" y="88.9" font-size="7.5" font-weight="bold" fill="#222" text-anchor="middle">*</text>
<text x="358.24" y="165.6" font-size="11.6" fill="#111" textLength="8.41" lengthAdjust="spacingAndGlyphs" class="d">D</text>
<rect x="396.0" y="255.3" width="7.55" height="28.4" fill="#2C4A86"/>
<line x1="399.77" y1="252.5" x2="399.77" y2="255.3" stroke="#2a2a2a" stroke-width="0.9"/>
<line x1="396.77" y1="252.5" x2="402.77" y2="252.5" stroke="#2a2a2a" stroke-width="1.0"/>
<rect x="403.55" y="280.86" width="7.55" height="2.84" fill="#8F9BC9"/>
<line x1="407.32" y1="279.5" x2="407.32" y2="280.86" stroke="#2a2a2a" stroke-width="0.9"/>
<line x1="404.32" y1="279.5" x2="410.32" y2="279.5" stroke="#2a2a2a" stroke-width="1.0"/>
<rect x="411.1" y="260.98" width="7.55" height="22.72" fill="#A8002C"/>
<line x1="414.88" y1="258.5" x2="414.88" y2="260.98" stroke="#2a2a2a" stroke-width="0.9"/>
<line x1="411.88" y1="258.5" x2="417.88" y2="258.5" stroke="#2a2a2a" stroke-width="1.0"/>
<rect x="418.65" y="277.66" width="7.55" height="6.04" fill="#DC917F"/>
<line x1="422.42" y1="274.5" x2="422.42" y2="277.66" stroke="#2a2a2a" stroke-width="0.9"/>
<line x1="419.42" y1="274.5" x2="425.42" y2="274.5" stroke="#2a2a2a" stroke-width="1.0"/>
<rect x="429.9" y="211.99" width="7.55" height="71.71" fill="#2C4A86"/>
<line x1="433.67" y1="206.5" x2="433.67" y2="211.99" stroke="#2a2a2a" stroke-width="0.9"/>
<line x1="430.67" y1="206.5" x2="436.67" y2="206.5" stroke="#2a2a2a" stroke-width="1.0"/>
<rect x="437.45" y="275.89" width="7.55" height="7.81" fill="#8F9BC9"/>
<line x1="441.22" y1="274.5" x2="441.22" y2="275.89" stroke="#2a2a2a" stroke-width="0.9"/>
<line x1="438.22" y1="274.5" x2="444.22" y2="274.5" stroke="#2a2a2a" stroke-width="1.0"/>
<rect x="445.0" y="210.57" width="7.55" height="73.13" fill="#A8002C"/>
<line x1="448.77" y1="201.5" x2="448.77" y2="210.57" stroke="#2a2a2a" stroke-width="0.9"/>
<line x1="445.77" y1="201.5" x2="451.77" y2="201.5" stroke="#2a2a2a" stroke-width="1.0"/>
<rect x="452.55" y="273.9" width="7.55" height="9.8" fill="#DC917F"/>
<line x1="456.32" y1="271.5" x2="456.32" y2="273.9" stroke="#2a2a2a" stroke-width="0.9"/>
<line x1="453.32" y1="271.5" x2="459.32" y2="271.5" stroke="#2a2a2a" stroke-width="1.0"/>
<line x1="393.5" y1="181.8" x2="393.5" y2="284.2" stroke="#111" stroke-width="1.1"/>
<line x1="393.0" y1="283.7" x2="465" y2="283.7" stroke="#111" stroke-width="1.1"/>
<line x1="390.5" y1="283.7" x2="393.5" y2="283.7" stroke="#111" stroke-width="0.9"/>
<text x="384.43" y="286.2" font-size="7.3" fill="#222" textLength="3.74" lengthAdjust="spacingAndGlyphs" class="d">0</text>
<line x1="390.5" y1="269.5" x2="393.5" y2="269.5" stroke="#111" stroke-width="0.9"/>
<text x="375.17" y="272.0" font-size="7.3" fill="#222" textLength="13.07" lengthAdjust="spacingAndGlyphs" class="d">0.02</text>
<line x1="390.5" y1="255.3" x2="393.5" y2="255.3" stroke="#111" stroke-width="0.9"/>
<text x="375.03" y="257.8" font-size="7.3" fill="#222" textLength="13.07" lengthAdjust="spacingAndGlyphs" class="d">0.04</text>
<line x1="390.5" y1="241.1" x2="393.5" y2="241.1" stroke="#111" stroke-width="0.9"/>
<text x="375.12" y="243.6" font-size="7.3" fill="#222" textLength="13.07" lengthAdjust="spacingAndGlyphs" class="d">0.06</text>
<line x1="390.5" y1="226.9" x2="393.5" y2="226.9" stroke="#111" stroke-width="0.9"/>
<text x="375.12" y="229.4" font-size="7.3" fill="#222" textLength="13.07" lengthAdjust="spacingAndGlyphs" class="d">0.08</text>
<line x1="390.5" y1="212.7" x2="393.5" y2="212.7" stroke="#111" stroke-width="0.9"/>
<text x="378.89" y="215.2" font-size="7.3" fill="#222" textLength="9.34" lengthAdjust="spacingAndGlyphs" class="d">0.1</text>
<line x1="390.5" y1="198.5" x2="393.5" y2="198.5" stroke="#111" stroke-width="0.9"/>
<text x="375.17" y="201.0" font-size="7.3" fill="#222" textLength="13.07" lengthAdjust="spacingAndGlyphs" class="d">0.12</text>
<line x1="390.5" y1="184.3" x2="393.5" y2="184.3" stroke="#111" stroke-width="0.9"/>
<text x="375.03" y="186.8" font-size="7.3" fill="#222" textLength="13.07" lengthAdjust="spacingAndGlyphs" class="d">0.14</text>
<line x1="393.5" y1="283.7" x2="393.5" y2="286.7" stroke="#111" stroke-width="0.9"/>
<line x1="427.9" y1="283.7" x2="427.9" y2="286.7" stroke="#111" stroke-width="0.9"/>
<line x1="462.6" y1="283.7" x2="462.6" y2="286.7" stroke="#111" stroke-width="0.9"/>
<text x="399.43" y="296.8" font-size="7.4" fill="#222" textLength="23.09" lengthAdjust="spacingAndGlyphs" class="d">Yprom</text>
<text x="437.37" y="297.0" font-size="7.4" fill="#222" textLength="16.02" lengthAdjust="spacingAndGlyphs" class="d">YTSS</text>
<text transform="translate(366.9,0) rotate(-90)" x="-255.95" y="0" font-size="9.9" fill="#222" textLength="46.32" lengthAdjust="spacingAndGlyphs" class="d">Enrichment</text>
<rect x="463.3" y="199.1" width="3.4" height="3.4" fill="#2C4A86"/>
<text x="469.41" y="203.2" font-size="6.6" fill="#333" textLength="28.05" lengthAdjust="spacingAndGlyphs" class="d">ctrol TBP</text>
<rect x="463.3" y="209.97" width="3.4" height="3.4" fill="#8F9BC9"/>
<text x="469.39" y="214.07" font-size="6.6" fill="#333" textLength="27.14" lengthAdjust="spacingAndGlyphs" class="d">ctrol IgG</text>
<rect x="463.3" y="220.84" width="3.4" height="3.4" fill="#A8002C"/>
<text x="469.52" y="224.94" font-size="6.6" fill="#333" textLength="37.51" lengthAdjust="spacingAndGlyphs" class="d">ΔBGLT3 TBP</text>
<rect x="463.3" y="231.71" width="3.4" height="3.4" fill="#DC917F"/>
<text x="469.51" y="235.81" font-size="6.6" fill="#333" textLength="36.87" lengthAdjust="spacingAndGlyphs" class="d">ΔBGLT3 IgG</text>
<text x="358.46" y="327.9" font-size="11.6" fill="#111" textLength="6.03" lengthAdjust="spacingAndGlyphs" class="d">E</text>
<rect x="395.9" y="428.56" width="6.5" height="1.24" fill="#2C4A86"/>
<line x1="399.15" y1="428.5" x2="399.15" y2="428.56" stroke="#2a2a2a" stroke-width="0.9"/>
<line x1="396.35" y1="428.5" x2="401.95" y2="428.5" stroke="#2a2a2a" stroke-width="1.0"/>
<rect x="402.4" y="429.7" width="6.5" height="0.1" fill="#8F9BC9"/>
<rect x="408.9" y="428.56" width="6.5" height="1.24" fill="#A8002C"/>
<line x1="412.15" y1="428.5" x2="412.15" y2="428.56" stroke="#2a2a2a" stroke-width="0.9"/>
<line x1="409.35" y1="428.5" x2="414.95" y2="428.5" stroke="#2a2a2a" stroke-width="1.0"/>
<rect x="415.4" y="429.7" width="6.5" height="0.1" fill="#DC917F"/>
<rect x="424.2" y="397.81" width="6.5" height="31.99" fill="#2C4A86"/>
<line x1="427.45" y1="397.5" x2="427.45" y2="397.81" stroke="#2a2a2a" stroke-width="0.9"/>
<line x1="424.65" y1="397.5" x2="430.25" y2="397.5" stroke="#2a2a2a" stroke-width="1.0"/>
<rect x="430.7" y="429.7" width="6.5" height="0.1" fill="#8F9BC9"/>
<rect x="437.2" y="400.54" width="6.5" height="29.26" fill="#A8002C"/>
<line x1="440.45" y1="399.5" x2="440.45" y2="400.54" stroke="#2a2a2a" stroke-width="0.9"/>
<line x1="437.65" y1="399.5" x2="443.25" y2="399.5" stroke="#2a2a2a" stroke-width="1.0"/>
<rect x="443.7" y="429.7" width="6.5" height="0.1" fill="#DC917F"/>
<rect x="453.3" y="387.89" width="6.5" height="41.91" fill="#2C4A86"/>
<line x1="456.55" y1="387.5" x2="456.55" y2="387.89" stroke="#2a2a2a" stroke-width="0.9"/>
<line x1="453.75" y1="387.5" x2="459.35" y2="387.5" stroke="#2a2a2a" stroke-width="1.0"/>
<rect x="459.8" y="429.7" width="6.5" height="0.1" fill="#8F9BC9"/>
<rect x="466.3" y="386.9" width="6.5" height="42.9" fill="#A8002C"/>
<line x1="469.55" y1="379.5" x2="469.55" y2="386.9" stroke="#2a2a2a" stroke-width="0.9"/>
<line x1="466.75" y1="379.5" x2="472.35" y2="379.5" stroke="#2a2a2a" stroke-width="1.0"/>
<rect x="472.8" y="429.7" width="6.5" height="0.1" fill="#DC917F"/>
<rect x="482.1" y="366.81" width="6.5" height="62.99" fill="#2C4A86"/>
<line x1="485.35" y1="363.5" x2="485.35" y2="366.81" stroke="#2a2a2a" stroke-width="0.9"/>
<line x1="482.55" y1="363.5" x2="488.15" y2="363.5" stroke="#2a2a2a" stroke-width="1.0"/>
<rect x="488.6" y="429.7" width="6.5" height="0.1" fill="#8F9BC9"/>
<rect x="495.1" y="381.94" width="6.5" height="47.86" fill="#A8002C"/>
<line x1="498.35" y1="377.5" x2="498.35" y2="381.94" stroke="#2a2a2a" stroke-width="0.9"/>
<line x1="495.55" y1="377.5" x2="501.15" y2="377.5" stroke="#2a2a2a" stroke-width="1.0"/>
<rect x="501.6" y="429.7" width="6.5" height="0.1" fill="#DC917F"/>
<line x1="393.7" y1="347.7" x2="393.7" y2="430.3" stroke="#111" stroke-width="1.1"/>
<line x1="393.2" y1="429.8" x2="512.3" y2="429.8" stroke="#111" stroke-width="1.1"/>
<line x1="390.7" y1="429.8" x2="393.7" y2="429.8" stroke="#111" stroke-width="0.9"/>
<text x="383.83" y="432.3" font-size="7.3" fill="#222" textLength="4.06" lengthAdjust="spacingAndGlyphs" class="d">0</text>
<line x1="390.7" y1="419.88" x2="393.7" y2="419.88" stroke="#111" stroke-width="0.9"/>
<text x="383.91" y="422.38" font-size="7.3" fill="#222" textLength="4.06" lengthAdjust="spacingAndGlyphs" class="d">2</text>
<line x1="390.7" y1="409.96" x2="393.7" y2="409.96" stroke="#111" stroke-width="0.9"/>
<text x="383.75" y="412.46" font-size="7.3" fill="#222" textLength="4.06" lengthAdjust="spacingAndGlyphs" class="d">4</text>
<line x1="390.7" y1="400.04" x2="393.7" y2="400.04" stroke="#111" stroke-width="0.9"/>
<text x="383.86" y="402.54" font-size="7.3" fill="#222" textLength="4.06" lengthAdjust="spacingAndGlyphs" class="d">6</text>
<line x1="390.7" y1="390.12" x2="393.7" y2="390.12" stroke="#111" stroke-width="0.9"/>
<text x="383.86" y="392.62" font-size="7.3" fill="#222" textLength="4.06" lengthAdjust="spacingAndGlyphs" class="d">8</text>
<line x1="390.7" y1="380.2" x2="393.7" y2="380.2" stroke="#111" stroke-width="0.9"/>
<text x="379.77" y="382.7" font-size="7.3" fill="#222" textLength="8.12" lengthAdjust="spacingAndGlyphs" class="d">10</text>
<line x1="390.7" y1="370.28" x2="393.7" y2="370.28" stroke="#111" stroke-width="0.9"/>
<text x="379.85" y="372.78" font-size="7.3" fill="#222" textLength="8.12" lengthAdjust="spacingAndGlyphs" class="d">12</text>
<line x1="390.7" y1="360.36" x2="393.7" y2="360.36" stroke="#111" stroke-width="0.9"/>
<text x="379.69" y="362.86" font-size="7.3" fill="#222" textLength="8.12" lengthAdjust="spacingAndGlyphs" class="d">14</text>
<line x1="390.7" y1="350.44" x2="393.7" y2="350.44" stroke="#111" stroke-width="0.9"/>
<text x="379.8" y="352.94" font-size="7.3" fill="#222" textLength="8.12" lengthAdjust="spacingAndGlyphs" class="d">16</text>
<line x1="393.7" y1="429.8" x2="393.7" y2="432.8" stroke="#111" stroke-width="0.9"/>
<line x1="422.6" y1="429.8" x2="422.6" y2="432.8" stroke="#111" stroke-width="0.9"/>
<line x1="451.5" y1="429.8" x2="451.5" y2="432.8" stroke="#111" stroke-width="0.9"/>
<line x1="480.5" y1="429.8" x2="480.5" y2="432.8" stroke="#111" stroke-width="0.9"/>
<line x1="509.5" y1="429.8" x2="509.5" y2="432.8" stroke="#111" stroke-width="0.9"/>
<text x="401.89" y="442.7" font-size="7.4" fill="#222" textLength="12.5" lengthAdjust="spacingAndGlyphs" class="d">LCR</text>
<text x="426.03" y="442.8" font-size="7.4" fill="#222" textLength="22.37" lengthAdjust="spacingAndGlyphs" class="d">Yprom</text>
<text x="458.17" y="442.6" font-size="7.4" fill="#222" textLength="16.02" lengthAdjust="spacingAndGlyphs" class="d">YTSS</text>
<text x="486.75" y="442.6" font-size="7.4" fill="#222" textLength="15.9" lengthAdjust="spacingAndGlyphs" class="d">Yex2</text>
<text transform="translate(373.7,0) rotate(-90)" x="-411.13" y="0" font-size="9.9" fill="#222" textLength="45.1" lengthAdjust="spacingAndGlyphs" class="d">Enrichment</text>
<rect x="399.7" y="328.4" width="3.4" height="3.4" fill="#2C4A86"/>
<text x="405.8" y="332.5" font-size="6.6" fill="#333" textLength="46.31" lengthAdjust="spacingAndGlyphs" class="d">ctrol H3K4me3</text>
<rect x="399.7" y="339.73" width="3.4" height="3.4" fill="#8F9BC9"/>
<text x="405.8" y="343.83" font-size="6.6" fill="#333" textLength="26.32" lengthAdjust="spacingAndGlyphs" class="d">ctrol IgG</text>
<rect x="399.7" y="351.06" width="3.4" height="3.4" fill="#A8002C"/>
<text x="405.91" y="355.16" font-size="6.6" fill="#333" textLength="55.58" lengthAdjust="spacingAndGlyphs" class="d">ΔBGLT3 H3K4me3</text>
<rect x="399.7" y="362.39" width="3.4" height="3.4" fill="#DC917F"/>
<text x="405.91" y="366.49" font-size="6.6" fill="#333" textLength="36.67" lengthAdjust="spacingAndGlyphs" class="d">ΔBGLT3 IgG</text>
<rect x="0" y="2" width="520" height="1" fill="#eee"/>
<rect x="0" y="1" width="520" height="1" fill="#888"/>
<rect x="0" y="494" width="520" height="1" fill="#bbb"/>
<rect x="1" y="0" width="1" height="496" fill="#777"/>
<rect x="518" y="0" width="1" height="496" fill="#888"/>
<rect x="0" y="0" width="520" height="1" fill="#1f1f1f"/>
<rect x="0" y="0" width="1" height="496" fill="#111"/>
<rect x="0" y="495" width="520" height="1" fill="#111"/>
<rect x="519" y="0" width="1" height="496" fill="#111"/>
</svg>
</body></html>
